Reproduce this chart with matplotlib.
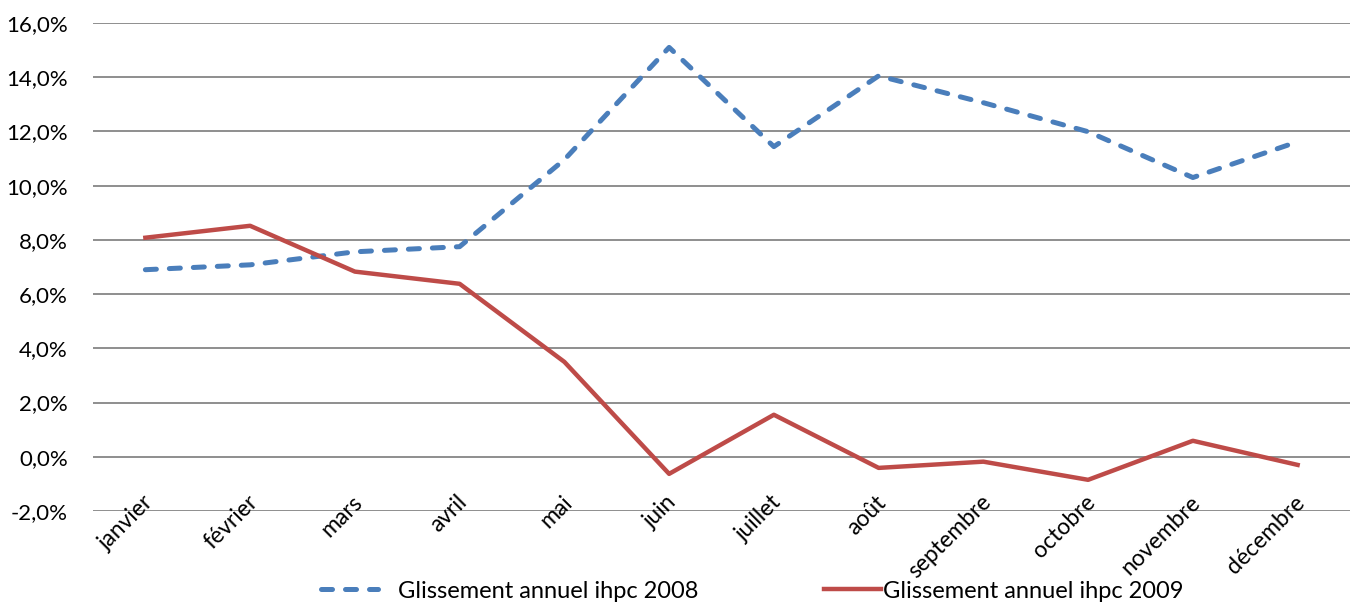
import matplotlib
matplotlib.use("Agg")
import matplotlib.pyplot as plt
import matplotlib.transforms as mtransforms
from matplotlib.ticker import FuncFormatter

mois = ["janvier", "février", "mars", "avril", "mai", "juin", "juillet",
        "août", "septembre", "octobre", "novembre", "décembre"]
ihpc_2008 = [6.9, 7.08, 7.56, 7.75, 10.96, 15.1, 11.44, 14.05, 13.06, 11.99, 10.3, 11.62]
ihpc_2009 = [8.08, 8.52, 6.83, 6.38, 3.5, -0.63, 1.55, -0.41, -0.18, -0.85, 0.59, -0.3]
yticks = [-2, 0, 2, 4, 6, 8, 10, 12, 14, 16]

plt.rcParams['font.family'] = ['Lato', 'DejaVu Sans']

fig = plt.figure(figsize=(13.5, 6.05), dpi=100)
ax = fig.add_axes([93/1350, 1-511/605, 1-93/1350, (511-23)/605])

x = list(range(len(mois)))
l1, = ax.plot(x, ihpc_2008, color='#4A7EBB', lw=3.6, dashes=(2.2, 2.6),
              dash_capstyle='round', solid_capstyle='round',
              label="Glissement annuel ihpc 2008", zorder=3)
l2, = ax.plot(x, ihpc_2009, color='#BE4B48', lw=3.2, solid_joinstyle='round',
              label="Glissement annuel ihpc 2009", zorder=3)

ax.set_xlim(-0.5, len(mois) - 0.5)
ax.set_ylim(-2, 16)
ax.set_yticks(yticks)
ax.yaxis.set_major_formatter(FuncFormatter(lambda v, p: f"{v:.1f}%".replace(".", ",")))
ax.tick_params(axis='y', length=0, pad=18, labelsize=16)
ax.grid(axis='y', color='#868686', lw=1.3)
ax.set_axisbelow(True)
for s in ax.spines.values():
    s.set_visible(False)

ax.set_xticks([])
trans = mtransforms.blended_transform_factory(ax.transData, fig.transFigure)
for i, m in enumerate(mois):
    ax.text(i + 0.04, 1 - 499/605, m, transform=trans, rotation=45,
            rotation_mode='anchor', ha='right', va='center', fontsize=16.5)

fig.legend(handles=[l1], loc='center left', bbox_to_anchor=(321/1350, 1-591/605),
           frameon=False, fontsize=17, handlelength=2.4, handletextpad=0.85,
           borderpad=0, borderaxespad=0)
fig.legend(handles=[l2], loc='center left', bbox_to_anchor=(824/1350, 1-591/605),
           frameon=False, fontsize=17, handlelength=2.4, handletextpad=0.1,
           borderpad=0, borderaxespad=0)

fig.savefig("out.png", dpi=100)
